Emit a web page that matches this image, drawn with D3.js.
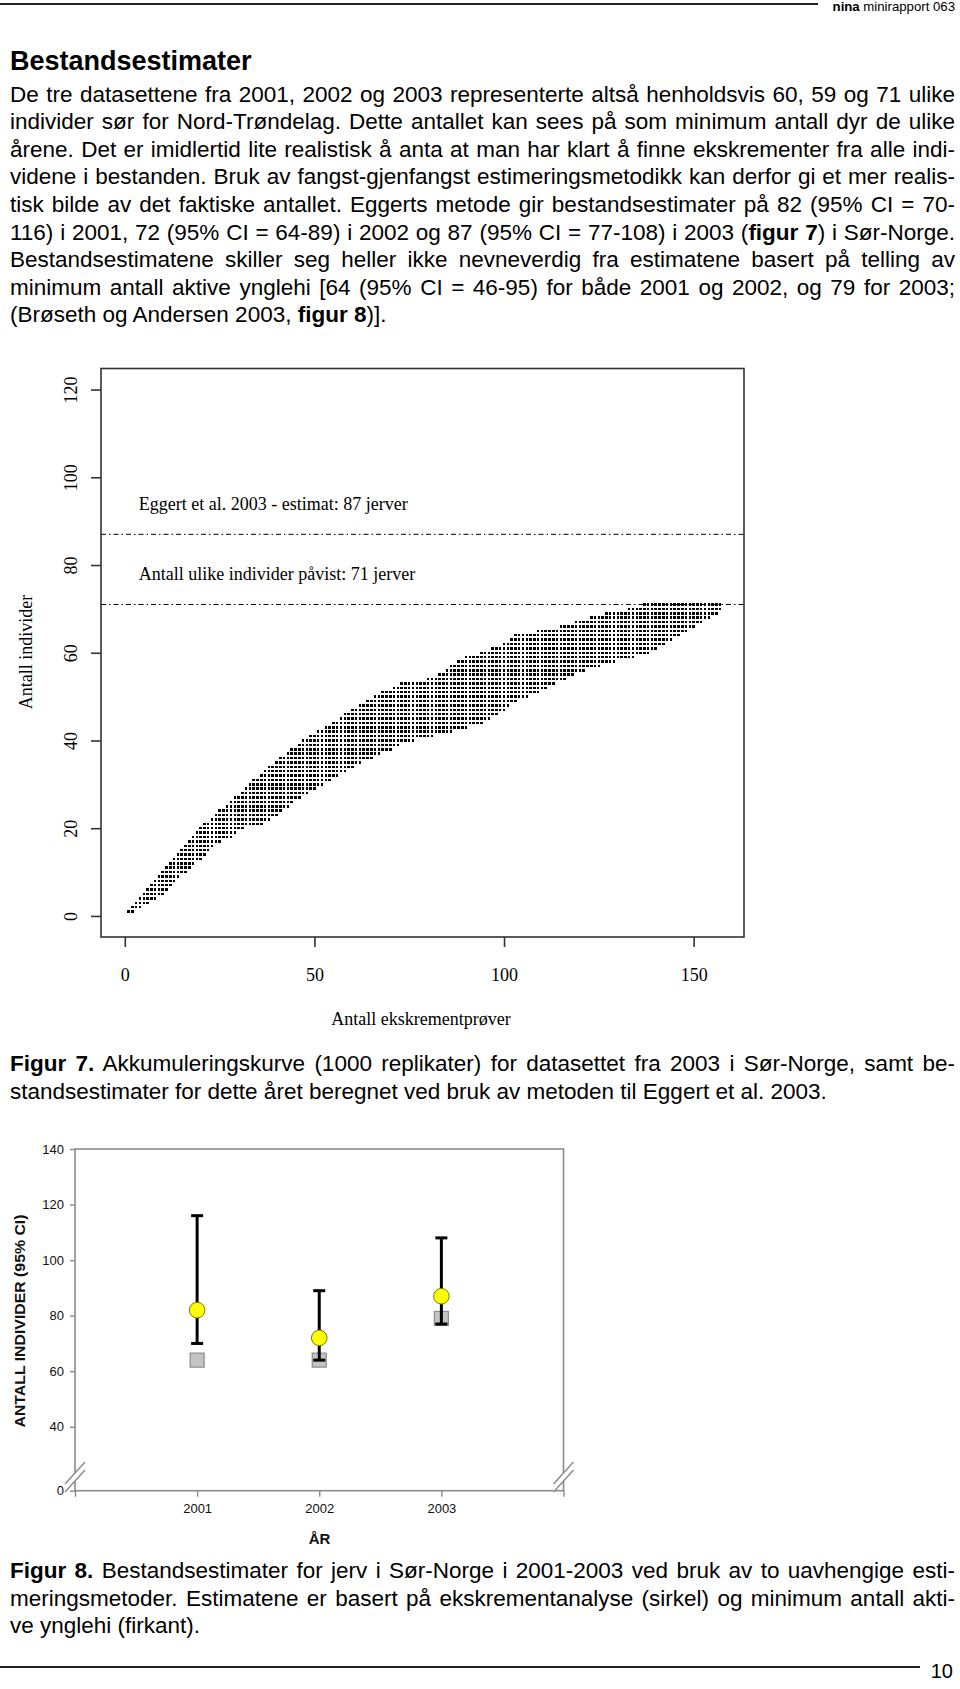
<!DOCTYPE html>
<html><head><meta charset="utf-8">
<script src="https://cdn.jsdelivr.net/npm/d3@7"></script>
<style>
html,body{margin:0;padding:0;background:#fff;}
svg{display:block;}
</style></head>
<body>
<svg id="page" width="960" height="1689"></svg>
<script>
// ---------------- DATA ----------------
// Figure 7: accumulation curve. For each number of distinct individuals (row),
// the first and last number of samples at which that value occurred among replicates.
const fig7Individuals = [1,2,3,4,5,6,7,8,9,10,11,12,13,14,15,16,17,18,19,20,21,22,23,24,25,26,27,28,29,30,31,32,33,34,35,36,37,38,39,40,41,42,43,44,45,46,47,48,49,50,51,52,53,54,55,56,57,58,59,60,61,62,63,64,65,66,67,68,69,70,71];
const fig7FirstSample = [1,2,3,4,5,6,7,8,9,10,11,12,13,14,15,16,17,18,19,20,21,23,24,25,27,28,29,31,32,33,34,36,37,38,40,41,43,44,46,47,49,51,53,55,57,58,60,62,64,66,68,71,73,80,83,85,86,88,90,94,97,100,102,103,109,115,119,123,127,133,137];
const fig7LastSample  = [2,4,6,8,10,11,12,13,14,16,17,18,20,21,22,23,25,28,29,31,36,38,40,41,43,44,46,48,50,52,54,56,58,60,62,65,67,70,72,76,81,86,90,94,96,98,100,101,103,106,109,111,113,116,118,121,125,129,134,138,140,142,144,146,148,150,152,154,156,157,157];
const fig7RefLines = [87, 71];
const fig7RefLabels = ["Eggert et al. 2003 - estimat: 87 jerver", "Antall ulike individer påvist: 71 jerver"];
const fig7XTicks = [0, 50, 100, 150];
const fig7YTicks = [0, 20, 40, 60, 80, 100, 120];

// Figure 8: population estimates
const fig8Years = ["2001", "2002", "2003"];
const fig8Estimate = [82, 72, 87];
const fig8CILow = [70, 64, 77];
const fig8CIHigh = [116, 89, 108];
const fig8Dens = [64, 64, 79];
const fig8YTicks = [0, 40, 60, 80, 100, 120, 140];

// Text
const bodyLines = [
  [["De tre datasettene fra 2001, 2002 og 2003 representerte altså henholdsvis 60, 59 og 71 ulike",0]],
  [["individer sør for Nord-Trøndelag. Dette antallet kan sees på som minimum antall dyr de ulike",0]],
  [["årene. Det er imidlertid lite realistisk å anta at man har klart å finne ekskrementer fra alle indi-",0]],
  [["videne i bestanden. Bruk av fangst-gjenfangst estimeringsmetodikk kan derfor gi et mer realis-",0]],
  [["tisk bilde av det faktiske antallet. Eggerts metode gir bestandsestimater på 82 (95% CI = 70-",0]],
  [["116) i 2001, 72 (95% CI = 64-89) i 2002 og 87 (95% CI = 77-108) i 2003 (",0],["figur 7",1],[") i Sør-Norge.",0]],
  [["Bestandsestimatene skiller seg heller ikke nevneverdig fra estimatene basert på telling av",0]],
  [["minimum antall aktive ynglehi [64 (95% CI = 46-95) for både 2001 og 2002, og 79 for 2003;",0]],
  [["(Brøseth og Andersen 2003, ",0],["figur 8",1],[")].",0]]
];
const caption7 = [
  [["Figur 7.",1],[" Akkumuleringskurve (1000 replikater) for datasettet fra 2003 i Sør-Norge, samt be-",0]],
  [["standsestimater for dette året beregnet ved bruk av metoden til Eggert et al. 2003.",0]]
];
const caption8 = [
  [["Figur 8.",1],[" Bestandsestimater for jerv i Sør-Norge i 2001-2003 ved bruk av to uavhengige esti-",0]],
  [["meringsmetoder. Estimatene er basert på ekskrementanalyse (sirkel) og minimum antall akti-",0]],
  [["ve ynglehi (firkant).",0]]
];

// ---------------- DRAWING ----------------
const svg = d3.select("#page");
svg.append("rect").attr("width",960).attr("height",1689).attr("fill","#fff");

const SANS = "'Liberation Sans', Arial, Helvetica, sans-serif";
const SERIF = "'Liberation Serif', 'Times New Roman', serif";

function textLine(parent, segs, x, y, size, width, justify) {
  const t = parent.append("text").attr("x", x).attr("y", y)
    .attr("font-family", SANS).attr("font-size", size).attr("fill", "#000");
  segs.forEach(s => {
    t.append("tspan").attr("font-weight", s[1] ? "bold" : "normal").text(s[0]);
  });
  if (justify) {
    const len = t.node().getComputedTextLength();
    const full = segs.map(s => s[0]).join("");
    const spaces = (full.match(/ /g) || []).length;
    if (spaces > 0) {
      const ws = (width - len) / spaces;
      t.style("word-spacing", ws + "px");
      const len2 = t.node().getComputedTextLength();
      if (Math.abs(len2 - width) > 2) {
        t.style("word-spacing", null);
        t.attr("textLength", width).attr("lengthAdjust", "spacing");
      }
    }
  }
  return t;
}

// header
svg.append("line").attr("x1",0).attr("x2",818).attr("y1",4).attr("y2",4)
  .attr("stroke","#222").attr("stroke-width",2);
const hdr = svg.append("text").attr("x",955).attr("y",11).attr("text-anchor","end")
  .attr("font-family",SANS).attr("font-size",13.2);
hdr.append("tspan").attr("font-weight","bold").text("nina");
hdr.append("tspan").text(" minirapport 063");

// title
svg.append("text").attr("x",10).attr("y",70).attr("font-family",SANS)
  .attr("font-size",27).attr("font-weight","bold").text("Bestandsestimater");

const TX = 10, TW = 945, FS = 22.5, LH = 27.6;
bodyLines.forEach((segs,i) => textLine(svg, segs, TX, 101.5 + i*LH, FS, TW, i < bodyLines.length-1));
caption7.forEach((segs,i) => textLine(svg, segs, TX, 1071 + i*28, FS, TW, i < caption7.length-1));
caption8.forEach((segs,i) => textLine(svg, segs, TX, 1578 + i*27.5, FS, TW, i < caption8.length-1));

// footer
svg.append("line").attr("x1",0).attr("x2",920).attr("y1",1667).attr("y2",1667)
  .attr("stroke","#222").attr("stroke-width",2);
svg.append("text").attr("x",953).attr("y",1678).attr("text-anchor","end")
  .attr("font-family",SANS).attr("font-size",20).text("10");

// ---------------- FIGURE 7 ----------------
const f7 = svg.append("g");
const x7 = d3.scaleLinear().domain([-6.28, 163.28]).range([101, 744]);
const y7 = d3.scaleLinear().domain([-4.8, 124.8]).range([937, 368.5]);

// dots
const dots = [];
fig7Individuals.forEach((v,i) => {
  for (let s = fig7FirstSample[i]; s <= fig7LastSample[i]; s++) dots.push([s, v]);
});
const DS = 2.5;
f7.append("g").attr("shape-rendering","crispEdges").selectAll("rect").data(dots).join("rect")
  .attr("x", d => x7(d[0]) - DS/2).attr("y", d => y7(d[1]) - DS/2)
  .attr("width", DS).attr("height", DS).attr("fill", "#000");

// reference lines
f7.append("g").selectAll("line").data(fig7RefLines).join("line")
  .attr("x1", x7.range()[0]).attr("x2", x7.range()[1])
  .attr("y1", d => y7(d)).attr("y2", d => y7(d))
  .attr("stroke", "#000").attr("stroke-width", 1)
  .attr("stroke-dasharray", "5,3,1.5,3");
f7.append("g").selectAll("text").data(fig7RefLabels).join("text")
  .attr("x", x7(3.7)).attr("y", (d,i) => y7(fig7RefLines[i] + 5.5))
  .attr("font-family", SERIF).attr("font-size", 18).text(d => d);

// box
f7.append("rect").attr("x",101).attr("y",368.5).attr("width",643).attr("height",568.5)
  .attr("fill","none").attr("stroke","#333").attr("stroke-width",1.6);

// x axis
const xAx = d3.axisBottom(x7).tickValues(fig7XTicks).tickSize(10).tickPadding(21).tickFormat(d3.format("d"));
const gx = f7.append("g").attr("transform","translate(0,937)").call(xAx);
gx.select(".domain").remove();
gx.selectAll(".tick line").attr("stroke","#333").attr("stroke-width",1.6);
gx.selectAll(".tick text").attr("font-family",SERIF).attr("font-size",18).attr("fill","#000");

// y axis
const yAx = d3.axisLeft(y7).tickValues(fig7YTicks).tickSize(10).tickFormat(d3.format("d"));
const gy = f7.append("g").attr("transform","translate(101,0)").call(yAx);
gy.select(".domain").remove();
gy.selectAll(".tick line").attr("stroke","#333").attr("stroke-width",1.6);
gy.selectAll(".tick text")
  .attr("font-family",SERIF).attr("font-size",18).attr("fill","#000")
  .attr("x",0).attr("dy",null).attr("text-anchor","middle")
  .attr("transform","translate(-24,0) rotate(-90)");

f7.append("text").attr("transform","translate(31.5,652) rotate(-90)")
  .attr("text-anchor","middle").attr("font-family",SERIF).attr("font-size",18)
  .text("Antall individer");
f7.append("text").attr("x",421).attr("y",1025).attr("text-anchor","middle")
  .attr("font-family",SERIF).attr("font-size",18).text("Antall ekskrementprøver");

// ---------------- FIGURE 8 ----------------
const f8 = svg.append("g");
const x8 = d3.scaleLinear().domain([0, 4]).range([75, 563.5]);
const y8 = d3.scaleLinear().domain([0, 40, 140]).range([1490.7, 1426.8, 1149]);
const yearPos = d => x8(fig8Years.indexOf(d) + 1);
const AX = "#8a8a8a";

// frame
f8.append("rect").attr("x",75).attr("y",1149).attr("width",488.5).attr("height",341.7)
  .attr("fill","none").attr("stroke",AX).attr("stroke-width",1.6);

// y ticks
const gy8 = f8.append("g").attr("transform","translate(75,0)")
  .call(d3.axisLeft(y8).tickValues(fig8YTicks).tickSize(5).tickPadding(6).tickFormat(d3.format("d")));
gy8.select(".domain").remove();
gy8.selectAll(".tick line").attr("stroke",AX).attr("stroke-width",1.4);
gy8.selectAll(".tick text").attr("font-family",SANS).attr("font-size",13).attr("fill","#111");

// x ticks
const gx8 = f8.append("g").attr("transform","translate(0,1490.7)")
  .call(d3.axisBottom(x8).tickValues([0,1,2,3,4]).tickSize(6).tickPadding(7)
    .tickFormat(d => (d >= 1 && d <= 3) ? fig8Years[d-1] : ""));
gx8.select(".domain").remove();
gx8.selectAll(".tick line").attr("stroke",AX).attr("stroke-width",1.4);
gx8.selectAll(".tick text").attr("font-family",SANS).attr("font-size",13).attr("fill","#111");

// axis breaks
[75, 563.5].forEach(cx => {
  const b = f8.append("g").attr("transform", `translate(${cx},1474)`);
  b.append("polygon").attr("points","-10,10 10,-12 10,-4 -10,18").attr("fill","#fff");
  b.append("line").attr("x1",-10).attr("y1",10).attr("x2",10).attr("y2",-12).attr("stroke",AX).attr("stroke-width",1.4);
  b.append("line").attr("x1",-10).attr("y1",18).attr("x2",10).attr("y2",-4).attr("stroke",AX).attr("stroke-width",1.4);
});

// squares (minimum active dens)
const SQ = 14;
f8.append("g").selectAll("rect").data(fig8Years).join("rect")
  .attr("x", d => yearPos(d) - SQ/2).attr("y", (d,i) => y8(fig8Dens[i]) - SQ/2)
  .attr("width", SQ).attr("height", SQ).attr("fill","#c4c4c4").attr("stroke","#8c8c8c").attr("stroke-width",1.2);

// error bars
const eb = f8.append("g").attr("stroke","#000").attr("stroke-width",3);
eb.selectAll("line.v").data(fig8Years).join("line").attr("class","v")
  .attr("x1", yearPos).attr("x2", yearPos)
  .attr("y1", (d,i) => y8(fig8CILow[i])).attr("y2", (d,i) => y8(fig8CIHigh[i]));
eb.selectAll("line.hi").data(fig8Years).join("line").attr("class","hi")
  .attr("x1", d => yearPos(d) - 6).attr("x2", d => yearPos(d) + 6)
  .attr("y1", (d,i) => y8(fig8CIHigh[i])).attr("y2", (d,i) => y8(fig8CIHigh[i]));
eb.selectAll("line.lo").data(fig8Years).join("line").attr("class","lo")
  .attr("x1", d => yearPos(d) - 6).attr("x2", d => yearPos(d) + 6)
  .attr("y1", (d,i) => y8(fig8CILow[i])).attr("y2", (d,i) => y8(fig8CILow[i]));

// circles (estimates)
f8.append("g").selectAll("circle").data(fig8Years).join("circle")
  .attr("cx", yearPos).attr("cy", (d,i) => y8(fig8Estimate[i])).attr("r", 7.8)
  .attr("fill","#ffff00").attr("stroke","#7a7a00").attr("stroke-width",1);

// labels
f8.append("text").attr("x",319.5).attr("y",1544).attr("text-anchor","middle")
  .attr("font-family",SANS).attr("font-size",15).attr("font-weight","bold").attr("fill","#111").text("ÅR");
f8.append("text").attr("transform","translate(25,1321) rotate(-90)").attr("text-anchor","middle")
  .attr("font-family",SANS).attr("font-size",15).attr("font-weight","bold").attr("fill","#111")
  .attr("textLength",213).attr("lengthAdjust","spacingAndGlyphs")
  .text("ANTALL INDIVIDER (95% CI)");
</script>
</body></html>
